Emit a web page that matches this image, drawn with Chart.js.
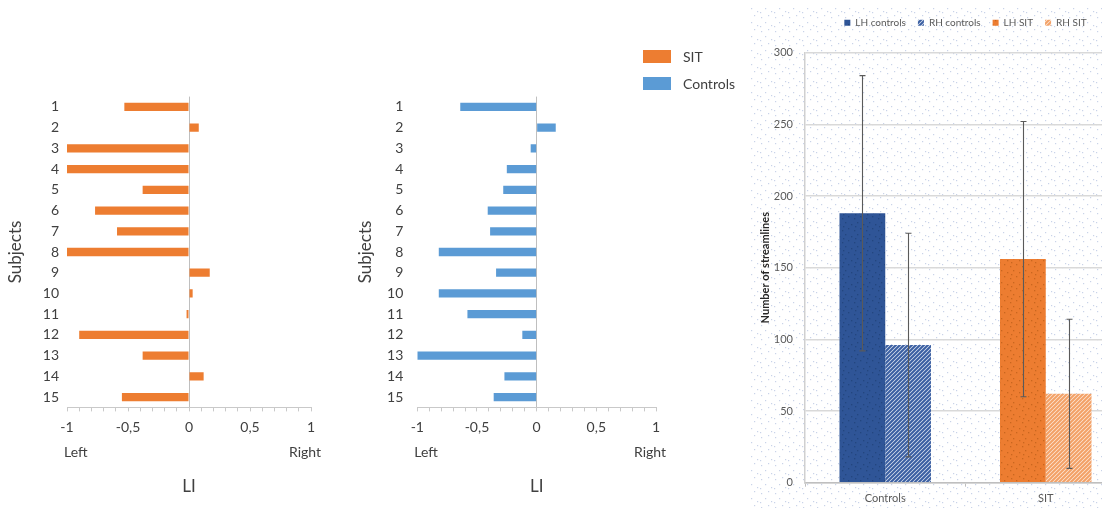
<!DOCTYPE html>
<html>
<head>
<meta charset="utf-8">
<script src="https://cdn.jsdelivr.net/npm/chart.js@4/dist/chart.umd.min.js"></script>
<style>
  html, body { margin: 0; padding: 0; background: #fff; width: 1102px; height: 508px; overflow: hidden; }
  canvas { position: absolute; top: 0; }
  #sitChart { left: 0; }
  #ctrlChart { left: 340px; }
  #tractChart { left: 745px; }
</style>
</head>
<body>
<canvas id="sitChart" width="340" height="508"></canvas>
<canvas id="ctrlChart" width="420" height="508"></canvas>
<canvas id="tractChart" width="390" height="508"></canvas>
<script>
// Laterality index per subject (negative = left, positive = right)
const subjects = ['1', '2', '3', '4', '5', '6', '7', '8', '9', '10', '11', '12', '13', '14', '15'];
const sitLI = [-0.53, 0.08, -1.0, -1.0, -0.38, -0.77, -0.59, -1.0, 0.17, 0.03, -0.02, -0.90, -0.38, 0.12, -0.55];
const controlsLI = [-0.64, 0.16, -0.05, -0.25, -0.28, -0.41, -0.39, -0.82, -0.34, -0.82, -0.58, -0.12, -1.0, -0.27, -0.36];
const sideLabels = ['Left', 'Right'];
const groupLabels = ['SIT', 'Controls'];

// Streamline counts per hemisphere (mean and SD)
const groups = ['Controls', 'SIT'];
const lhMeans = [188, 156];
const rhMeans = [96, 62];
const lhSD = [96, 96];
const rhSD = [78, 52];
const seriesLabels = ['LH controls', 'RH controls', 'LH SIT', 'RH SIT'];

const SIT_COLOR = '#ED7D31';
const CTRL_COLOR = '#5B9BD5';
const TEXT = '#404040';
const FONT = "Lato, 'Open Sans', sans-serif";

Chart.defaults.font.family = FONT;
Chart.defaults.color = TEXT;

// ---------- fills ----------
function tile(size, paint) {
  const c = document.createElement('canvas');
  c.width = c.height = size;
  const g = c.getContext('2d');
  paint(g, size);
  return g.createPattern(c, 'repeat');
}
function hatch(bg, fg, size, width) {
  return tile(size, (g, s) => {
    g.fillStyle = bg; g.fillRect(0, 0, s, s);
    g.strokeStyle = fg; g.lineWidth = width;
    g.beginPath();
    g.moveTo(-s, 2 * s); g.lineTo(2 * s, -s);
    g.moveTo(-s, s); g.lineTo(s, -s);
    g.moveTo(0, 2 * s); g.lineTo(2 * s, 0);
    g.stroke();
  });
}
function speckle(bg, dot) {
  return tile(12, (g, s) => {
    g.fillStyle = bg; g.fillRect(0, 0, s, s);
    g.fillStyle = dot;
    [[1, 2], [7, 0], [4, 6], [10, 8], [2, 10]].forEach(([x, y]) => g.fillRect(x, y, 1.3, 1.3));
  });
}

// ---------- LI helpers ----------
function formatLI(value) {
  const v = Math.round(value * 10) / 10;
  if (Math.abs(v * 2 - Math.round(v * 2)) > 1e-9) return '';
  return String(v).replace('.', ',');
}
function zeroLine(ctx) {
  return (ctx.tick && Math.abs(ctx.tick.value) < 1e-9) ? '#bfbfbf' : 'rgba(0,0,0,0)';
}

const sideLabelPlugin = {
  id: 'sideLabels',
  afterDraw(chart) {
    const x = chart.scales.x, area = chart.chartArea, ctx = chart.ctx;
    ctx.save();
    ctx.font = '14px ' + FONT;
    ctx.fillStyle = TEXT;
    ctx.textBaseline = 'middle';
    ctx.textAlign = 'left';
    ctx.fillText(sideLabels[0], x.getPixelForValue(-1) - 3, area.bottom + 45);
    ctx.textAlign = 'right';
    ctx.fillText(sideLabels[1], x.getPixelForValue(1) + 10, area.bottom + 45);
    ctx.restore();
  }
};

// Shared legend for the two LI panels, drawn beside the Controls panel
const liLegendItems = [
  { text: groupLabels[0], color: SIT_COLOR },
  { text: groupLabels[1], color: CTRL_COLOR }
];
const liLegendPlugin = {
  id: 'liLegend',
  afterDraw(chart) {
    const ctx = chart.ctx, area = chart.chartArea;
    const left = area.right - 13;
    ctx.save();
    ctx.font = '14px ' + FONT;
    ctx.textBaseline = 'middle';
    ctx.textAlign = 'left';
    liLegendItems.forEach((item, i) => {
      const top = 50 + i * 27;
      ctx.fillStyle = item.color;
      ctx.fillRect(left, top, 28, 13);
      ctx.fillStyle = TEXT;
      ctx.fillText(item.text, left + 40, top + 7);
    });
    ctx.restore();
  }
};

function liChart(id, label, values, color, cfg, extraPlugins) {
  return new Chart(document.getElementById(id), {
    type: 'bar',
    data: {
      labels: subjects,
      datasets: [{ label, data: values, backgroundColor: color, borderWidth: 0,
                   barPercentage: 0.4, categoryPercentage: 1 }]
    },
    options: {
      responsive: false,
      animation: false,
      indexAxis: 'y',
      layout: { padding: { left: 0, right: cfg.right, top: 96.6, bottom: 0 } },
      plugins: { legend: { display: false }, tooltip: { enabled: false } },
      scales: {
        x: {
          type: 'linear', min: -1, max: 1,
          afterFit: s => { s.height = 100.6; },
          ticks: { stepSize: 0.1, maxTicksLimit: 21, autoSkip: false, maxRotation: 0,
                   padding: 8, color: TEXT, font: { size: 14 }, callback: formatLI },
          grid: { color: zeroLine, tickColor: '#c9c9c9', tickLength: 4, lineWidth: 1 },
          border: { display: true, color: '#c9c9c9' },
          title: { display: true, text: 'LI', color: TEXT, font: { size: 17 },
                   padding: { top: 0, bottom: 10.8 } }
        },
        y: {
          type: 'category',
          afterFit: s => { s.width = cfg.axisWidth; },
          grid: { display: false, drawTicks: false },
          border: { display: false },
          ticks: { padding: cfg.tickPad, color: TEXT, font: { size: 14 }, autoSkip: false },
          title: { display: true, text: 'Subjects', color: TEXT, font: { size: 17 },
                   padding: { top: cfg.titlePad, bottom: 0 } }
        }
      }
    },
    plugins: [sideLabelPlugin].concat(extraPlugins || [])
  });
}

liChart('sitChart', groupLabels[0], sitLI, SIT_COLOR,
        { right: 29, axisWidth: 67, tickPad: 8, titlePad: 5.4 });
liChart('ctrlChart', groupLabels[1], controlsLI, CTRL_COLOR,
        { right: 104, axisWidth: 77.3, tickPad: 14, titlePad: 15.4 }, [liLegendPlugin]);

// ---------- streamline panel ----------
const backdropPlugin = {
  id: 'backdrop',
  beforeDraw(chart) {
    const ctx = chart.ctx;
    ctx.save();
    ctx.fillStyle = '#ffffff';
    ctx.fillRect(0, 0, chart.width, chart.height);
    ctx.fillStyle = tile(14, (g, s) => {
      g.fillStyle = 'rgba(165,182,218,0.6)';
      [[2, 3], [9, 1], [6, 8], [12, 11], [1, 12]].forEach(([x, y]) => g.fillRect(x, y, 1.2, 1.2));
    });
    ctx.fillRect(4, 6, chart.width - 4, chart.height - 6);
    ctx.restore();
  }
};

const errorBarPlugin = {
  id: 'errorBars',
  afterDatasetsDraw(chart) {
    const ctx = chart.ctx, y = chart.scales.y;
    ctx.save();
    ctx.strokeStyle = '#5a5a5a';
    ctx.lineWidth = 1.1;
    chart.data.datasets.forEach((ds, i) => {
      const meta = chart.getDatasetMeta(i);
      meta.data.forEach((bar, j) => {
        const v = ds.data[j], e = ds.errors[j];
        if (v == null || e == null) return;
        const x = Math.round(bar.x) + 0.5;
        const yt = y.getPixelForValue(v + e), yb = y.getPixelForValue(v - e);
        ctx.beginPath();
        ctx.moveTo(x, yt); ctx.lineTo(x, yb);
        ctx.moveTo(x - 3, yt); ctx.lineTo(x + 3, yt);
        ctx.moveTo(x - 3, yb); ctx.lineTo(x + 3, yb);
        ctx.stroke();
      });
    });
    ctx.restore();
  }
};

const lhCtrlFill = speckle('#2F5597', '#24467f');
const rhCtrlFill = hatch('#e4eaf5', '#3b5fa2', 4, 2.1);
const lhSitFill = speckle('#ED7D31', '#c9661f');
const rhSitFill = hatch('#fdebde', '#f3a167', 4, 2.1);

new Chart(document.getElementById('tractChart'), {
  type: 'bar',
  data: {
    labels: groups,
    datasets: [
      { label: seriesLabels[0], data: [lhMeans[0], null], errors: [lhSD[0], null], backgroundColor: lhCtrlFill },
      { label: seriesLabels[1], data: [rhMeans[0], null], errors: [rhSD[0], null], backgroundColor: rhCtrlFill },
      { label: seriesLabels[2], data: [null, lhMeans[1]], errors: [null, lhSD[1]], backgroundColor: lhSitFill },
      { label: seriesLabels[3], data: [null, rhMeans[1]], errors: [null, rhSD[1]], backgroundColor: rhSitFill }
    ].map(ds => Object.assign(ds, { borderWidth: 0, skipNull: true, barPercentage: 1, categoryPercentage: 0.57 }))
  },
  options: {
    responsive: false,
    animation: false,
    layout: { padding: { left: 0, right: 9, top: 5.7, bottom: 0 } },
    plugins: {
      tooltip: { enabled: false },
      legend: {
        position: 'top', fullSize: false,
        labels: { boxWidth: 6, boxHeight: 6, padding: 12, color: '#595959', font: { size: 10 } }
      },
      title: { display: true, text: '', position: 'top', fullSize: false, weight: 0,
               font: { size: 10 }, padding: { top: 0, bottom: 3 } }
    },
    scales: {
      x: {
        afterFit: s => { s.height = 25.3; },
        grid: { drawOnChartArea: false, drawTicks: true, tickLength: 4, tickColor: '#bfbfbf', offset: true },
        border: { color: '#bfbfbf', width: 1.5 },
        ticks: { color: '#595959', font: { size: 11 }, padding: 4.7 }
      },
      y: {
        min: 0, max: 300,
        afterFit: s => { s.width = 60; },
        ticks: { stepSize: 50, color: '#595959', font: { size: 11 }, padding: 12 },
        grid: { color: '#d9d9d9', lineWidth: 1.5, drawTicks: false },
        border: { color: '#d0d0d0', width: 1.5 },
        title: { display: true, text: 'Number of streamlines', color: '#262626',
                 font: { size: 11, weight: 'bold' }, padding: { top: 13.4, bottom: 0 } }
      }
    }
  },
  plugins: [backdropPlugin, errorBarPlugin]
});
</script>
</body>
</html>
